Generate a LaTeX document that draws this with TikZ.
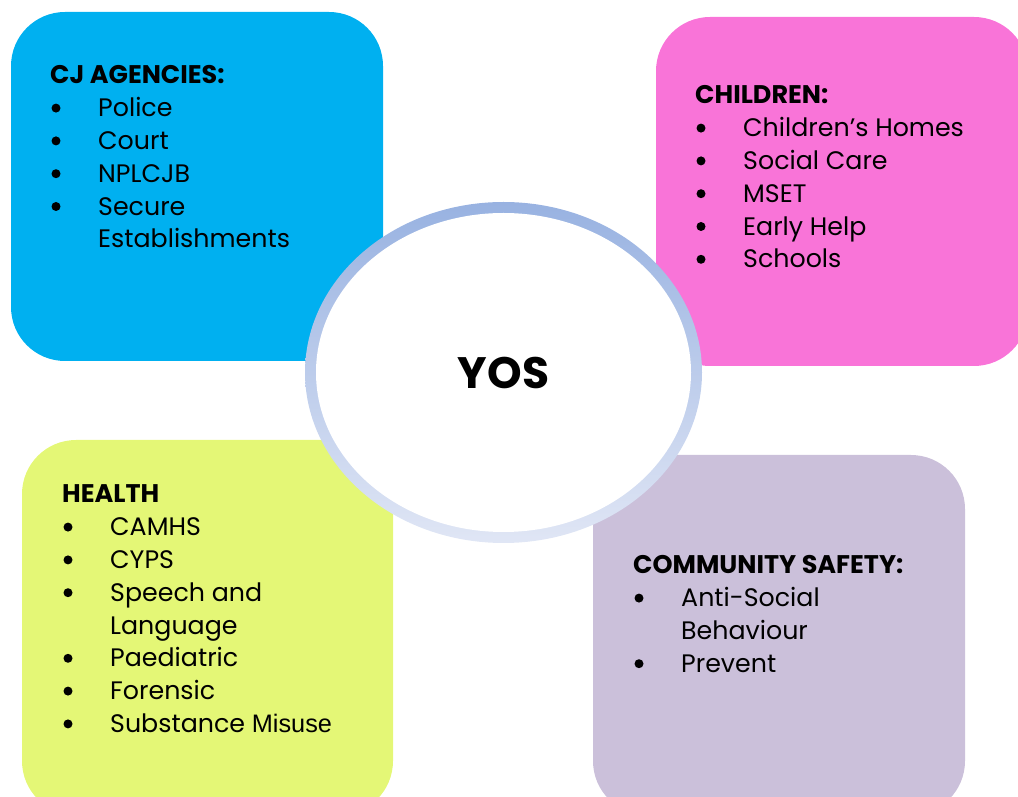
\documentclass[tikz,border=0pt]{standalone}
\usepackage{fontspec}
\setmainfont{Poppins}
\newfontfamily\arialfont{Liberation Sans}
\usetikzlibrary{positioning}

\definecolor{cjblue}{RGB}{0,176,240}
\definecolor{kidpink}{RGB}{249,116,216}
\definecolor{healthgreen}{RGB}{228,247,118}
\definecolor{safelilac}{RGB}{203,192,218}
\definecolor{ringtop}{RGB}{152,178,225}
\definecolor{ringbot}{RGB}{224,230,245}

\tikzset{
	panel/.style={rounded corners=54pt, inner sep=0pt, draw=none},
	head/.style={anchor=base west, inner sep=0pt, font=\fontsize{25.5}{30}\selectfont\bfseries},
	entry/.style={anchor=base west, inner sep=0pt, font=\fontsize{25.3}{30}\selectfont},
	dot/.style={circle, fill=black, inner sep=0pt, minimum size=9pt}
}

\begin{document}
\begin{tikzpicture}[x=1pt, y=1pt]
	\useasboundingbox (0,0) rectangle (1018,796);
	\clip (0,0) rectangle (1018,796);

	% the four panels
	\node[panel, fill=cjblue, minimum width=372pt, minimum height=349pt] (cj) at (197,609.5) {};
	\node[panel, fill=kidpink, minimum width=372pt, minimum height=349pt] (children) at (842,604.5) {};
	\node[panel, fill=healthgreen, minimum width=371pt, minimum height=375pt] (health) at (207.5,168.5) {};
	\node[panel, fill=safelilac, minimum width=372pt, minimum height=360pt] (safety) at (779,161) {};

	% centre ring
	\coordinate (mid) at (503.5,423.5);
	\shade[top color=ringtop, bottom color=ringbot] (mid) ellipse [x radius=198.5, y radius=170.5];
	\fill[white] (mid) ellipse [x radius=187.5, y radius=159.5];
	\node[anchor=base, inner sep=0pt, font=\fontsize{44}{50}\selectfont\bfseries] (yos) at (503.5,407) {YOS};

	% CJ agencies
	\node[head] (cj-head) at (50,712) {CJ AGENCIES:};
	\foreach \txt/\b [count=\i] in {Police/1, Court/1, NPLCJB/1, Secure/1, Establishments/0}{
		\node[entry] (cj-\i) at (98,{712-32.8*\i}) {\txt};
		\ifnum\b=1 \node[dot] (cj-dot-\i) at (56,{712-32.8*\i+8.7}) {}; \fi
	}

	% children
	\node[head] (children-head) at (695,692) {CHILDREN:};
	\foreach \txt/\b [count=\i] in {Children’s Homes/1, Social Care/1, MSET/1, Early Help/1, Schools/1}{
		\node[entry] (children-\i) at (743,{692-32.8*\i}) {\txt};
		\ifnum\b=1 \node[dot] (children-dot-\i) at (701,{692-32.8*\i+8.7}) {}; \fi
	}

	% health
	\node[head] (health-head) at (62,293) {HEALTH};
	\foreach \txt/\b [count=\i] in {CAMHS/1, CYPS/1, Speech and/1, Language/0, Paediatric/1, Forensic/1, {Substance {\arialfont Misuse}}/1}{
		\node[entry] (health-\i) at (110,{293-32.8*\i}) {\txt};
		\ifnum\b=1 \node[dot] (health-dot-\i) at (68,{293-32.8*\i+8.7}) {}; \fi
	}

	% community safety
	\node[head] (safety-head) at (633,222) {COMMUNITY SAFETY:};
	\foreach \txt/\b [count=\i] in {Anti-Social/1, Behaviour/0, Prevent/1}{
		\node[entry] (safety-\i) at (681,{222-32.8*\i}) {\txt};
		\ifnum\b=1 \node[dot] (safety-dot-\i) at (639,{222-32.8*\i+8.7}) {}; \fi
	}
\end{tikzpicture}
\end{document}
